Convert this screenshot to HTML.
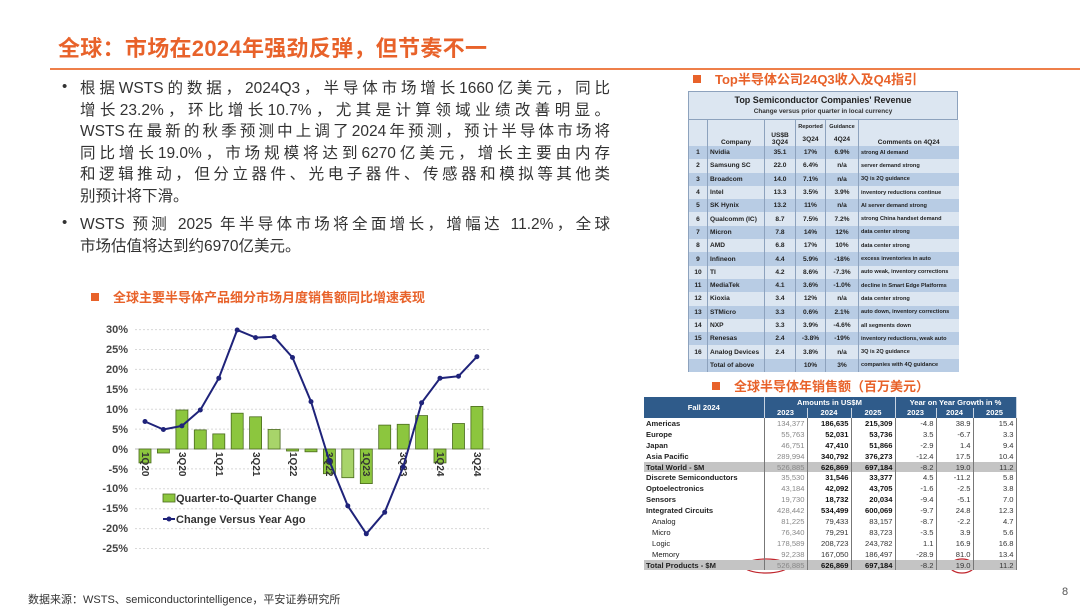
<!DOCTYPE html>
<html><head><meta charset="utf-8"><style>
*{margin:0;padding:0;box-sizing:border-box}
body{width:1080px;height:607px;background:#fff;position:relative;overflow:hidden;font-family:"Liberation Sans","Noto Sans CJK SC",sans-serif;color:#222}
.abs{position:absolute}
.title{left:58px;top:31px;font-size:22px;font-weight:bold;color:#e8622a;white-space:nowrap;letter-spacing:0.3px}
.rule{left:50px;top:68px;width:1030px;height:2px;background:#ee7f4a}
.para{left:80px;width:530px;font-size:15.5px;line-height:21.6px;color:#333}
.para div{text-align:justify;text-align-last:justify;white-space:nowrap;height:21.6px}
.para div.last{text-align-last:left}
.dot{font-size:15px;color:#333}
.sub{font-size:13px;font-weight:bold;color:#e8622a;white-space:nowrap}
.sq{display:inline-block;width:8px;height:8px;background:#e8622a;margin-right:14px;vertical-align:1px}
table{border-collapse:collapse;table-layout:fixed}
#t1{left:688px;top:91px;width:270px;font-size:6.6px;font-weight:bold;color:#222}
#t1 td{height:13.3px;padding:0 2px;white-space:nowrap;overflow:hidden;border-left:1px solid #8da2bd}
#t1 tr.o td{background:#b8cce4}
#t1 tr.e td{background:#dce6f1}
#t1 .c{text-align:center}
#t1 .cm{font-size:5.6px}
#t2{left:644px;top:397px;width:372px;font-size:7.6px;color:#333}
#t2 td{height:10.9px;padding:0 2px;white-space:nowrap;overflow:hidden;text-align:right;border-right:1px solid #777}
#t2 td.l{text-align:left;font-weight:bold;color:#222}
#t2 tr.h td{background:#2f5b8a;color:#fff;text-align:center;font-weight:bold;border-right:1px solid #c8d4e2;height:10.5px}
#t2 tr.g td{background:#c4c4c4}
#t2 .b{font-weight:bold;color:#111}
#t2 .n{color:#888}
</style></head><body>
<div class="abs title">全球：市场在2024年强劲反弹，但节奏不一</div>
<div class="abs rule"></div>
<div class="abs dot" style="left:62px;top:78px">•</div>
<div class="abs para" style="top:78px">
<div>根据WSTS的数据，2024Q3，半导体市场增长1660亿美元，同比</div>
<div>增长23.2%，环比增长10.7%，尤其是计算领域业绩改善明显。</div>
<div>WSTS在最新的秋季预测中上调了2024年预测，预计半导体市场将</div>
<div>同比增长19.0%，市场规模将达到6270亿美元，增长主要由内存</div>
<div>和逻辑推动，但分立器件、光电子器件、传感器和模拟等其他类</div>
<div class="last">别预计将下滑。</div>
</div>
<div class="abs dot" style="left:62px;top:214px">•</div>
<div class="abs para" style="top:214px">
<div>WSTS 预测 2025 年半导体市场将全面增长，增幅达 11.2%，全球</div>
<div class="last">市场估值将达到约6970亿美元。</div>
</div>
<div class="abs sub" style="left:91px;top:287px"><span class="sq"></span>全球主要半导体产品细分市场月度销售额同比增速表现</div>
<div class="abs sub" style="left:693px;top:69px"><span class="sq"></span>Top半导体公司24Q3收入及Q4指引</div>
<div class="abs sub" style="left:712px;top:376px"><span class="sq"></span>全球半导体年销售额（百万美元）</div>

<svg class="abs" style="left:0;top:0" width="1080" height="607" font-family="Liberation Sans, sans-serif">
<g stroke="#d8d8d8" stroke-dasharray="2,2" stroke-width="1">
<line x1="135" x2="490" y1="329.6" y2="329.6"/><line x1="135" x2="490" y1="349.5" y2="349.5"/><line x1="135" x2="490" y1="369.4" y2="369.4"/><line x1="135" x2="490" y1="389.3" y2="389.3"/><line x1="135" x2="490" y1="409.2" y2="409.2"/><line x1="135" x2="490" y1="429.1" y2="429.1"/><line x1="135" x2="490" y1="468.9" y2="468.9"/><line x1="135" x2="490" y1="488.8" y2="488.8"/><line x1="135" x2="490" y1="508.7" y2="508.7"/><line x1="135" x2="490" y1="528.6" y2="528.6"/><line x1="135" x2="490" y1="548.5" y2="548.5"/>
</g>
<line x1="135" x2="490" y1="449" y2="449" stroke="#bbb"/>
<g font-size="11" font-weight="bold" fill="#444" text-anchor="end">
<text x="128" y="333">30%</text><text x="128" y="353">25%</text><text x="128" y="373">20%</text><text x="128" y="393">15%</text><text x="128" y="413">10%</text><text x="128" y="433">5%</text><text x="128" y="453">0%</text><text x="128" y="473">-5%</text><text x="128" y="492">-10%</text><text x="128" y="512">-15%</text><text x="128" y="532">-20%</text><text x="128" y="552">-25%</text>
</g>
<g fill="#8cc63e" stroke="#4a6a1e" stroke-width="0.8">
<rect x="139" y="449" width="12" height="13.9"/><rect x="157.4" y="449" width="12" height="4"/><rect x="175.9" y="410" width="12" height="39"/><rect x="194.3" y="429.9" width="12" height="19.1"/><rect x="212.8" y="433.9" width="12" height="15.1"/><rect x="231.2" y="413.2" width="12" height="35.8"/><rect x="249.6" y="416.8" width="12" height="32.2"/><rect x="268.1" y="429.5" width="12" height="19.5" fill="#a8d46a"/><rect x="286.5" y="449" width="12" height="2"/><rect x="305" y="449" width="12" height="2.8"/><rect x="323.4" y="449" width="12" height="24.7"/><rect x="341.8" y="449" width="12" height="28.7" fill="#a8d46a"/><rect x="360.3" y="449" width="12" height="34.6"/><rect x="378.7" y="425.1" width="12" height="23.9"/><rect x="397.2" y="424.3" width="12" height="24.7"/><rect x="415.6" y="415.6" width="12" height="33.4"/><rect x="434" y="449" width="12" height="13.9"/><rect x="452.5" y="423.5" width="12" height="25.5"/><rect x="470.9" y="406.4" width="12" height="42.6"/>
</g>
<g font-size="10" font-weight="bold" fill="#333">
<text transform="translate(142,452) rotate(90)">1Q20</text><text transform="translate(179,452) rotate(90)">3Q20</text><text transform="translate(216,452) rotate(90)">1Q21</text><text transform="translate(253,452) rotate(90)">3Q21</text><text transform="translate(290,452) rotate(90)">1Q22</text><text transform="translate(326,452) rotate(90)">3Q22</text><text transform="translate(363,452) rotate(90)">1Q23</text><text transform="translate(400,452) rotate(90)">3Q23</text><text transform="translate(437,452) rotate(90)">1Q24</text><text transform="translate(474,452) rotate(90)">3Q24</text>
</g>
<polyline fill="none" stroke="#1f237a" stroke-width="2" points="145,421.5 163.4,429.5 181.9,425.9 200.3,410 218.8,378.2 237.2,330 255.6,337.6 274.1,336.8 292.5,357.5 311,401.6 329.4,461 347.8,505.9 366.3,533.8 384.7,512.3 403.2,466.9 421.6,402.8 440,378.2 458.5,376.2 476.9,356.7"/>
<g fill="#1f237a">
<circle cx="145" cy="421.5" r="2.5"/><circle cx="163.4" cy="429.5" r="2.5"/><circle cx="181.9" cy="425.9" r="2.5"/><circle cx="200.3" cy="410" r="2.5"/><circle cx="218.8" cy="378.2" r="2.5"/><circle cx="237.2" cy="330" r="2.5"/><circle cx="255.6" cy="337.6" r="2.5"/><circle cx="274.1" cy="336.8" r="2.5"/><circle cx="292.5" cy="357.5" r="2.5"/><circle cx="311" cy="401.6" r="2.5"/><circle cx="329.4" cy="461" r="2.5"/><circle cx="347.8" cy="505.9" r="2.5"/><circle cx="366.3" cy="533.8" r="2.5"/><circle cx="384.7" cy="512.3" r="2.5"/><circle cx="403.2" cy="466.9" r="2.5"/><circle cx="421.6" cy="402.8" r="2.5"/><circle cx="440" cy="378.2" r="2.5"/><circle cx="458.5" cy="376.2" r="2.5"/><circle cx="476.9" cy="356.7" r="2.5"/>
</g>
<rect x="163" y="494" width="12" height="8" fill="#8cc63e" stroke="#4a6a1e" stroke-width="0.8"/>
<text x="176" y="502" font-size="11" font-weight="bold" fill="#333">Quarter-to-Quarter Change</text>
<line x1="163" x2="175" y1="519" y2="519" stroke="#1f237a" stroke-width="2"/><circle cx="169" cy="519" r="2.5" fill="#1f237a"/>
<text x="176" y="523" font-size="11" font-weight="bold" fill="#333">Change Versus Year Ago</text>
<ellipse cx="766" cy="566" rx="22" ry="7" fill="none" stroke="#c0262d" stroke-width="1.2"/>
<ellipse cx="962" cy="566" rx="12" ry="7" fill="none" stroke="#c0262d" stroke-width="1.2"/>
</svg>

<div class="abs" style="left:688px;top:91px;width:270px;height:29px;background:#dce6f1;border:1px solid #8da2bd;text-align:center;font-weight:bold">
<div style="font-size:9px;margin-top:3px">Top Semiconductor Companies' Revenue</div>
<div style="font-size:6.4px;margin-top:3px;color:#333">Change versus prior quarter in local currency</div></div>
<table id="t1" class="abs" style="top:120px">
<colgroup><col style="width:19px"><col style="width:57px"><col style="width:31px"><col style="width:30px"><col style="width:33px"><col style="width:100px"></colgroup>
<tr class="e"><td style="height:26px"></td><td class="c" style="vertical-align:bottom">Company</td><td class="c" style="vertical-align:bottom">US$B<br>3Q24</td><td class="c" style="font-size:5.6px">Reported<br><br><span style="font-size:6.6px">3Q24</span></td><td class="c" style="font-size:5.6px">Guidance<br><br><span style="font-size:6.6px">4Q24</span></td><td class="c" style="vertical-align:bottom">Comments on 4Q24</td></tr>
<tr class="o"><td class="c">1</td><td>Nvidia</td><td class="c">35.1</td><td class="c">17%</td><td class="c">6.9%</td><td class="cm">strong AI demand</td></tr>
<tr class="e"><td class="c">2</td><td>Samsung SC</td><td class="c">22.0</td><td class="c">6.4%</td><td class="c">n/a</td><td class="cm">server demand strong</td></tr>
<tr class="o"><td class="c">3</td><td>Broadcom</td><td class="c">14.0</td><td class="c">7.1%</td><td class="c">n/a</td><td class="cm">3Q is 2Q guidance</td></tr>
<tr class="e"><td class="c">4</td><td>Intel</td><td class="c">13.3</td><td class="c">3.5%</td><td class="c">3.9%</td><td class="cm">inventory reductions continue</td></tr>
<tr class="o"><td class="c">5</td><td>SK Hynix</td><td class="c">13.2</td><td class="c">11%</td><td class="c">n/a</td><td class="cm">AI server demand strong</td></tr>
<tr class="e"><td class="c">6</td><td>Qualcomm (IC)</td><td class="c">8.7</td><td class="c">7.5%</td><td class="c">7.2%</td><td class="cm">strong China handset demand</td></tr>
<tr class="o"><td class="c">7</td><td>Micron</td><td class="c">7.8</td><td class="c">14%</td><td class="c">12%</td><td class="cm">data center strong</td></tr>
<tr class="e"><td class="c">8</td><td>AMD</td><td class="c">6.8</td><td class="c">17%</td><td class="c">10%</td><td class="cm">data center strong</td></tr>
<tr class="o"><td class="c">9</td><td>Infineon</td><td class="c">4.4</td><td class="c">5.9%</td><td class="c">-18%</td><td class="cm">excess inventories in auto</td></tr>
<tr class="e"><td class="c">10</td><td>TI</td><td class="c">4.2</td><td class="c">8.6%</td><td class="c">-7.3%</td><td class="cm">auto weak, inventory corrections</td></tr>
<tr class="o"><td class="c">11</td><td>MediaTek</td><td class="c">4.1</td><td class="c">3.6%</td><td class="c">-1.0%</td><td class="cm">decline in Smart Edge Platforms</td></tr>
<tr class="e"><td class="c">12</td><td>Kioxia</td><td class="c">3.4</td><td class="c">12%</td><td class="c">n/a</td><td class="cm">data center strong</td></tr>
<tr class="o"><td class="c">13</td><td>STMicro</td><td class="c">3.3</td><td class="c">0.6%</td><td class="c">2.1%</td><td class="cm">auto down, inventory corrections</td></tr>
<tr class="e"><td class="c">14</td><td>NXP</td><td class="c">3.3</td><td class="c">3.9%</td><td class="c">-4.6%</td><td class="cm">all segments down</td></tr>
<tr class="o"><td class="c">15</td><td>Renesas</td><td class="c">2.4</td><td class="c">-3.8%</td><td class="c">-19%</td><td class="cm">inventory reductions, weak auto</td></tr>
<tr class="e"><td class="c">16</td><td>Analog Devices</td><td class="c">2.4</td><td class="c">3.8%</td><td class="c">n/a</td><td class="cm">3Q is 2Q guidance</td></tr>
<tr class="o"><td></td><td>Total of above</td><td></td><td class="c">10%</td><td class="c">3%</td><td class="cm">companies with 4Q guidance</td></tr>
</table>

<table id="t2" class="abs">
<colgroup><col style="width:120px"><col style="width:43px"><col style="width:44px"><col style="width:44px"><col style="width:41px"><col style="width:37px"><col style="width:43px"></colgroup>
<tr class="h"><td rowspan="2">Fall 2024</td><td colspan="3">Amounts in US$M</td><td colspan="3">Year on Year Growth in %</td></tr>
<tr class="h"><td>2023</td><td>2024</td><td>2025</td><td>2023</td><td>2024</td><td>2025</td></tr>
<tr><td class="l">Americas</td><td class="n">134,377</td><td class="b">186,635</td><td class="b">215,309</td><td>-4.8</td><td>38.9</td><td>15.4</td></tr>
<tr><td class="l">Europe</td><td class="n">55,763</td><td class="b">52,031</td><td class="b">53,736</td><td>3.5</td><td>-6.7</td><td>3.3</td></tr>
<tr><td class="l">Japan</td><td class="n">46,751</td><td class="b">47,410</td><td class="b">51,866</td><td>-2.9</td><td>1.4</td><td>9.4</td></tr>
<tr><td class="l">Asia Pacific</td><td class="n">289,994</td><td class="b">340,792</td><td class="b">376,273</td><td>-12.4</td><td>17.5</td><td>10.4</td></tr>
<tr class="g"><td class="l">Total World - $M</td><td class="n">526,885</td><td class="b">626,869</td><td class="b">697,184</td><td>-8.2</td><td>19.0</td><td>11.2</td></tr>
<tr><td class="l">Discrete Semiconductors</td><td class="n">35,530</td><td class="b">31,546</td><td class="b">33,377</td><td>4.5</td><td>-11.2</td><td>5.8</td></tr>
<tr><td class="l">Optoelectronics</td><td class="n">43,184</td><td class="b">42,092</td><td class="b">43,705</td><td>-1.6</td><td>-2.5</td><td>3.8</td></tr>
<tr><td class="l">Sensors</td><td class="n">19,730</td><td class="b">18,732</td><td class="b">20,034</td><td>-9.4</td><td>-5.1</td><td>7.0</td></tr>
<tr><td class="l">Integrated Circuits</td><td class="n">428,442</td><td class="b">534,499</td><td class="b">600,069</td><td>-9.7</td><td>24.8</td><td>12.3</td></tr>
<tr><td class="l" style="font-weight:normal;padding-left:8px">Analog</td><td class="n">81,225</td><td>79,433</td><td>83,157</td><td>-8.7</td><td>-2.2</td><td>4.7</td></tr>
<tr><td class="l" style="font-weight:normal;padding-left:8px">Micro</td><td class="n">76,340</td><td>79,291</td><td>83,723</td><td>-3.5</td><td>3.9</td><td>5.6</td></tr>
<tr><td class="l" style="font-weight:normal;padding-left:8px">Logic</td><td class="n">178,589</td><td>208,723</td><td>243,782</td><td>1.1</td><td>16.9</td><td>16.8</td></tr>
<tr><td class="l" style="font-weight:normal;padding-left:8px">Memory</td><td class="n">92,238</td><td>167,050</td><td>186,497</td><td>-28.9</td><td>81.0</td><td>13.4</td></tr>
<tr class="g"><td class="l">Total Products - $M</td><td class="n">526,885</td><td class="b">626,869</td><td class="b">697,184</td><td>-8.2</td><td>19.0</td><td>11.2</td></tr>
</table>

<div class="abs" style="left:28px;top:591px;font-size:11px;color:#333;white-space:nowrap">数据来源：WSTS、semiconductorintelligence，平安证券研究所</div>
<div class="abs" style="left:1062px;top:586px;font-size:11px;color:#555">8</div>
</body></html>
